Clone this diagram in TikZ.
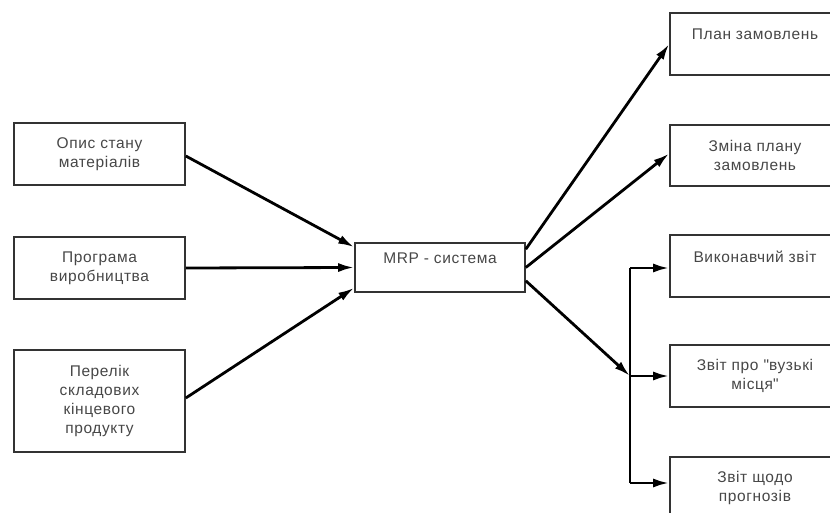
\documentclass[tikz,border=0pt]{standalone}
\usepackage{fontspec}
\setmainfont[LetterSpace=4]{Liberation Sans}
\usetikzlibrary{arrows.meta}
\begin{document}
\begin{tikzpicture}[x=1pt,y=-1pt,
  box/.style={draw=black!80,line width=1.6pt,fill=white,inner sep=0pt,
    align=center,text=black!72,font=\fontsize{15.5}{18.7}\selectfont},
  flow/.style={line width=2.8pt,-{Latex[length=16pt,width=9pt]}},
  plain/.style={line width=2.6pt}]
  \useasboundingbox (0,0) rectangle (830,513);
  \clip (0,0) rectangle (830,513);
  \fill[white] (0,0) rectangle (830,513);

  % inputs
  \node[box,minimum width=171pt,minimum height=62pt]  (b1) at (99.5,154)   {Опис стану\\матеріалів};
  \node[box,minimum width=171pt,minimum height=62pt]  (b2) at (99.5,268)   {Програма\\виробництва};
  \node[box,minimum width=171pt,minimum height=102pt] (b3) at (99.5,401)   {Перелік\\складових\\кінцевого\\продукту};

  % system
  \node[box,minimum width=170pt,minimum height=49pt]  (m)  at (440,267.5) {MRP - система\\\mbox{}};

  % outputs
  \node[box,minimum width=170pt,minimum height=62pt]  (p1) at (755,44)    {План замовлень\\\mbox{}};
  \node[box,minimum width=170pt,minimum height=61pt]  (p2) at (755,155.5) {Зміна плану\\замовлень};
  \node[box,minimum width=170pt,minimum height=62pt]  (p4) at (755,266)   {Виконавчий звіт\\\mbox{}};
  \node[box,minimum width=170pt,minimum height=62pt]  (p5) at (755,376)   {Звіт про \textquotedbl вузькі\\місця\textquotedbl};
  \node[box,minimum width=170pt,minimum height=62pt]  (p6) at (755,488)   {Звіт щодо\\прогнозів};

  % branch points on the report bus
  \coordinate (j)  at (630,376);
  \coordinate (t4) at (630,268);
  \coordinate (t6) at (630,483);

  % inputs into the system
  \draw[flow] ([yshift=-2pt]b1.east) -- ([yshift=-5pt]m.north west);
  \draw[flow] (b2.east) -- (m.west);
  \draw[flow] ([yshift=3pt]b3.east) -- ([yshift=5pt]m.south west);

  % system outputs
  \draw[flow] ([yshift=-7pt]m.north east) -- (p1.west);
  \draw[flow] (m.east) -- ([yshift=2pt]p2.west);
  \draw[flow] ([yshift=12pt]m.south east) -- (j);

  % report bus
  \draw[plain] (t4) -- (t6);
  \draw[flow] (t4) -- (t4 -| p4.west);
  \draw[flow] (j) -- (p5.west);
  \draw[flow] (t6) -- (t6 -| p6.west);
\end{tikzpicture}
\end{document}
